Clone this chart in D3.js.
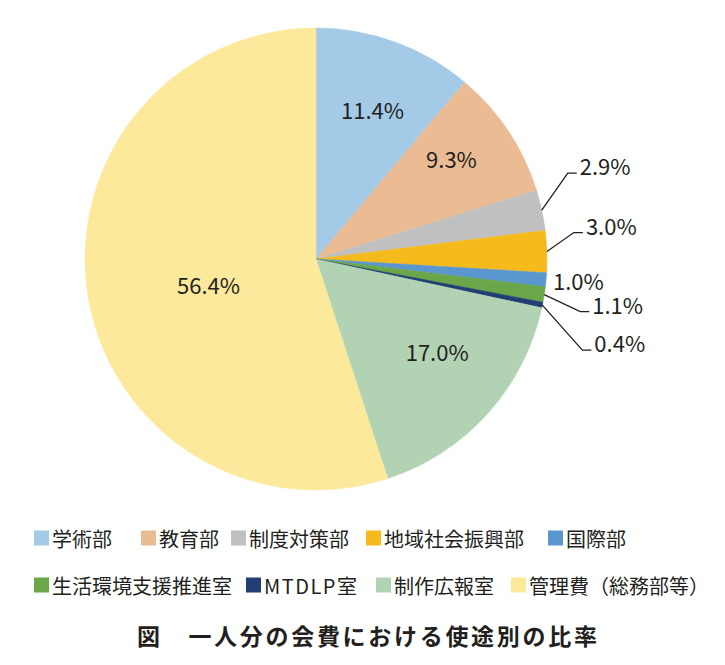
<!DOCTYPE html>
<html>
<head>
<meta charset="utf-8">
<script src="https://cdn.jsdelivr.net/npm/d3@7"></script>
<style>
  html, body { margin: 0; padding: 0; background: #fff; }
  svg { display: block; font-family: 'Noto Sans CJK JP', 'Noto Sans', sans-serif; }
</style>
</head>
<body>
<div id="chart"></div>
<script>
const categories = ['学術部', '教育部', '制度対策部', '地域社会振興部', '国際部',
  '生活環境支援推進室', 'MTDLP室', '制作広報室', '管理費（総務部等）'];
const values = [11.4, 9.3, 2.9, 3.0, 1.0, 1.1, 0.4, 17.0, 56.4];
const colors = ['#a3cae6', '#ebbc94', '#c0c0c0', '#f5bb1d', '#5b97cf',
  '#6ba648', '#213f72', '#b2d3b3', '#fde99c'];
const title = '図\u3000一人分の会費における使途別の比率';

// label placement (inside: radius fraction + nudge, outside: elbow offset from arc edge)
const labelLayout = [
  { inside: true, r: 0.69, nudge: [2, 0] },
  { inside: true, r: 0.72, nudge: [-3, -9] },
  { inside: false, elbow: [26, -37] },
  { inside: false, elbow: [27, -19] },
  { inside: false, elbow: null },
  { inside: false, elbow: [36, 17] },
  { inside: false, elbow: [40, 45] },
  { inside: true, r: 0.66, nudge: [8, -10] },
  { inside: true, r: 0.48, nudge: [2, 8] }
];

// legend rows (item index, x)
const legendRows = [
  { y: 538, items: [[0, 34], [1, 141], [2, 231], [3, 366], [4, 548]] },
  { y: 585, items: [[5, 34], [6, 246], [7, 376], [8, 511]] }
];

const width = 725;
const height = 665;
const cx = 316;
const cy = 259;
const radius = 231;
const textColor = '#231f20';

const svg = d3.select('#chart')
  .append('svg')
  .attr('width', width)
  .attr('height', height);

const pie = d3.pie().sort(null).value(d => d);
const arcs = pie(values);

const arc = d3.arc().innerRadius(0).outerRadius(radius);
const edgeArc = d3.arc().innerRadius(radius).outerRadius(radius);

const graph = svg.append('g')
  .attr('transform', `translate(${cx}, ${cy})`);

graph
  .selectAll('path.slice')
  .data(arcs)
  .join('path')
  .attr('class', 'slice')
  .attr('d', arc)
  .attr('fill', (d, i) => colors[i])
  .attr('stroke', (d, i) => colors[i])
  .attr('stroke-width', 0.5);

const fmt = v => `${v.toFixed(1)}%`;

arcs.forEach((d, i) => {
  const lay = labelLayout[i];
  const mid = (d.startAngle + d.endAngle) / 2;
  if (lay.inside) {
    const r = radius * lay.r;
    graph.append('text')
      .attr('x', Math.sin(mid) * r + lay.nudge[0])
      .attr('y', -Math.cos(mid) * r + lay.nudge[1])
      .attr('text-anchor', 'middle')
      .attr('dominant-baseline', 'central')
      .attr('font-size', 22)
      .attr('fill', textColor)
      .text(fmt(values[i]));
    return;
  }
  const [ex, ey] = edgeArc.centroid(d);
  if (!lay.elbow) {
    graph.append('text')
      .attr('x', ex + 7)
      .attr('y', ey)
      .attr('dominant-baseline', 'central')
      .attr('font-size', 22)
      .attr('fill', textColor)
      .text(fmt(values[i]));
    return;
  }
  const bx = ex + lay.elbow[0];
  const by = ey + lay.elbow[1];
  graph.append('path')
    .attr('d', d3.line()([[ex, ey], [bx, by], [bx + 9, by]]))
    .attr('fill', 'none')
    .attr('stroke', textColor)
    .attr('stroke-width', 1.3);
  graph.append('text')
    .attr('x', bx + 12)
    .attr('y', by - 8)
    .attr('dominant-baseline', 'central')
    .attr('font-size', 22)
    .attr('fill', textColor)
    .text(fmt(values[i]));
});

// legend
const legend = svg.append('g');
legendRows.forEach(row => {
  const items = legend.selectAll(null)
    .data(row.items)
    .join('g')
    .attr('transform', d => `translate(${d[1]}, ${row.y})`);
  items.append('rect')
    .attr('x', 0)
    .attr('y', -7.5)
    .attr('width', 15)
    .attr('height', 15)
    .attr('fill', d => colors[d[0]]);
  items.append('text')
    .attr('x', 18)
    .attr('y', 0)
    .attr('dominant-baseline', 'central')
    .attr('font-size', 20)
    .attr('letter-spacing', d => (/^[A-Z]/.test(categories[d[0]]) ? 1.5 : 0))
    .attr('fill', textColor)
    .text(d => categories[d[0]]);
});

svg.append('text')
  .attr('x', 137)
  .attr('y', 635)
  .attr('dominant-baseline', 'central')
  .attr('font-size', 23)
  .attr('font-weight', 'bold')
  .attr('letter-spacing', 2.7)
  .attr('fill', textColor)
  .text(title);
</script>
</body>
</html>
